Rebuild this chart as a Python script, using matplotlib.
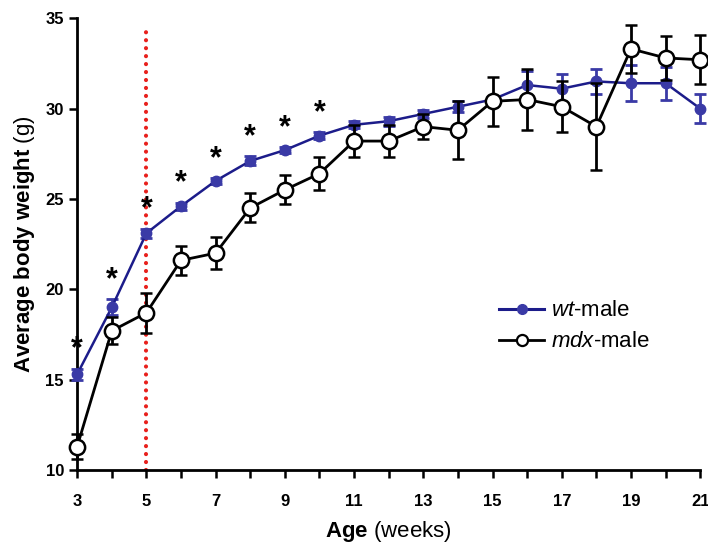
import matplotlib
matplotlib.use("Agg")
import matplotlib.pyplot as plt
from matplotlib.lines import Line2D
import numpy as np

weeks = list(range(3, 22))
wt_mean = [15.3, 19.0, 23.1, 24.6, 26.0, 27.1, 27.7, 28.5, 29.1, 29.3, 29.7, 30.1, 30.5, 31.3, 31.1, 31.5, 31.4, 31.4, 30.0]
wt_err = [0.3, 0.45, 0.25, 0.2, 0.15, 0.25, 0.15, 0.2, 0.2, 0.25, 0.2, 0.3, 0.2, 0.8, 0.8, 0.7, 1.0, 0.9, 0.8]
mdx_mean = [11.3, 17.7, 18.7, 21.6, 22.0, 24.5, 25.5, 26.4, 28.2, 28.2, 29.0, 28.8, 30.4, 30.5, 30.1, 29.0, 33.3, 32.8, 32.7]
mdx_err = [0.7, 0.75, 1.1, 0.8, 0.9, 0.8, 0.8, 0.9, 0.9, 0.9, 0.7, 1.6, 1.35, 1.7, 1.4, 2.4, 1.35, 1.2, 1.35]
star_weeks = [3, 4, 5, 6, 7, 8, 9, 10]
xtick_labels = ["3", "5", "7", "9", "11", "13", "15", "17", "19", "21"]
yticks = [10, 15, 20, 25, 30, 35]

plt.rcParams['font.family'] = ['Liberation Sans', 'DejaVu Sans']
plt.rcParams['mathtext.fontset'] = 'custom'
plt.rcParams['mathtext.rm'] = 'Liberation Sans'
plt.rcParams['mathtext.bf'] = 'Liberation Sans:bold'
plt.rcParams['mathtext.it'] = 'Liberation Sans:italic'

fig = plt.figure(figsize=(7.08, 5.51), dpi=100)
ax = fig.add_axes([0.109, 0.147, 0.880, 0.820])

navy = '#1c1c8a'
blue = '#3a3aa6'

ax.axvline(5, ymin=0, ymax=0.985, color='#e8201c', linestyle=(0, (0.01, 1.9)), linewidth=3.0,
           dash_capstyle='round', zorder=1)

ax.errorbar(weeks, wt_mean, yerr=wt_err, color=navy, ecolor=blue, elinewidth=2, capsize=4, capthick=2,
            marker='o', markersize=7.5, markerfacecolor=blue, markeredgecolor=blue, linewidth=1.8,
            zorder=3, clip_on=False)
ax.errorbar(weeks, mdx_mean, yerr=mdx_err, color='black', ecolor='black', elinewidth=2, capsize=4, capthick=2,
            marker='o', markersize=11, markerfacecolor='white', markeredgecolor='black', markeredgewidth=1.8,
            linewidth=2, zorder=4, clip_on=False)

for w in star_weeks:
    i = weeks.index(w)
    ax.annotate('*', xy=(w, wt_mean[i] + wt_err[i]), xytext=(0, 3), textcoords='offset points',
                ha='center', va='bottom', fontsize=22, fontweight='bold', color='black')

ax.set_xlim(3, 21)
ax.set_ylim(10, 35)
ax.set_xticks(weeks)
ax.set_xticklabels([str(w) if str(w) in xtick_labels else '' for w in weeks])
ax.set_yticks(yticks)
for lab in ax.get_xticklabels() + ax.get_yticklabels():
    lab.set_fontweight('bold')
    lab.set_fontsize(12)
ax.tick_params(axis='both', direction='out', length=5.5, width=1.8)
ax.tick_params(axis='x', pad=12)
ax.tick_params(axis='y', pad=4)
for s in ['top', 'right']:
    ax.spines[s].set_visible(False)
for s in ['left', 'bottom']:
    ax.spines[s].set_linewidth(2)

ax.set_xlabel(r'$\mathbf{Age}$ (weeks)', fontsize=16, labelpad=7)
ax.set_ylabel(r'$\mathbf{Average\ body\ weight}$ (g)', fontsize=16, labelpad=6)

handles = [
    Line2D([], [], color=navy, linewidth=2.2, marker='o', markersize=7, markerfacecolor=blue, markeredgecolor=blue),
    Line2D([], [], color='black', linewidth=2, marker='o', markersize=8, markerfacecolor='white',
           markeredgecolor='black', markeredgewidth=1.6),
]
labels = [r'$\it{wt}$-male', r'$\it{mdx}$-male']
ax.legend(handles, labels, loc='upper left', bbox_to_anchor=(0.66, 0.40), frameon=False, fontsize=16,
          handlelength=2.0, handletextpad=0.3, labelspacing=0.45, borderpad=0)

fig.savefig('out.png', dpi=100)
